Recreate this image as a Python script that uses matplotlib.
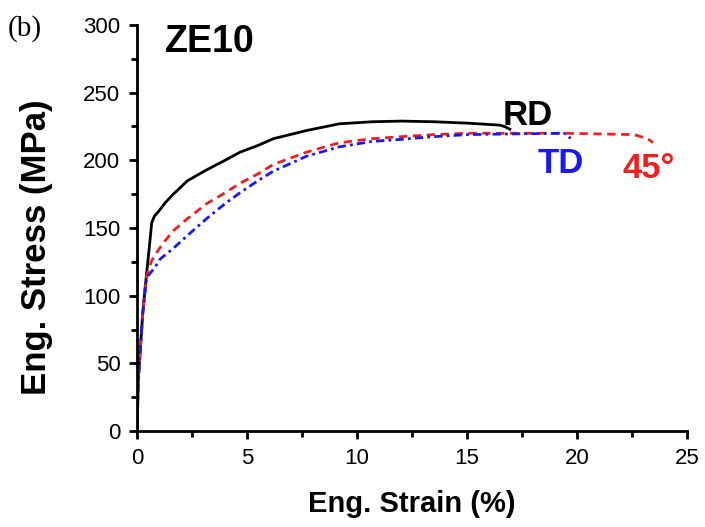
import matplotlib
matplotlib.use("Agg")
import matplotlib.pyplot as plt
from matplotlib.ticker import MultipleLocator

plt.rcParams['font.family'] = ['Liberation Sans', 'DejaVu Sans']

# RD (black, solid)
rd_strain = [0, 0.06, 0.26, 0.41, 0.56, 0.67, 0.8, 0.97, 1.3, 1.65, 2.3, 3.17, 4.0, 4.68, 5.5,
             6.2, 7.7, 9.2, 10.7, 12.0, 13.5, 15.0, 16.0, 16.5, 16.7, 16.95]
rd_stress = [0, 38, 87, 112, 136, 154, 159, 162, 169, 175, 185, 193, 200, 206, 211,
             216, 222, 227, 228.5, 229, 228.5, 227.5, 226.5, 226, 225, 223]

# 45 deg (red, dashed)
d45_strain = [0, 0.06, 0.26, 0.41, 0.52, 0.67, 0.9, 1.2, 1.65, 2.3, 3.17, 4.0, 4.68, 5.5, 6.2,
              7.7, 9.2, 10.7, 12.0, 13.5, 15.0, 17.0, 19.5, 21.0, 22.6, 23.0, 23.3, 23.45]
d45_stress = [0, 38, 87, 112, 119, 126, 132, 139, 148, 157, 168, 176, 183, 190, 197,
              206, 213, 216, 217.5, 219, 220, 220, 220, 219.5, 219, 217, 215, 213]

# TD (blue, dash-dot)
td_strain = [0, 0.06, 0.26, 0.41, 0.52, 0.82, 1.05, 1.35, 1.65, 2.33, 3.17, 4.0, 4.68, 5.5,
             6.2, 7.7, 9.2, 10.7, 12.0, 13.5, 15.0, 17.0, 19.4, 19.6, 19.7]
td_stress = [0, 38, 87, 110, 115, 121, 127, 131, 135, 145, 157, 168, 176, 185,
             192, 203, 210, 214, 215.5, 217.5, 219, 219.5, 220, 218.5, 216]

fig = plt.figure(figsize=(7.05, 5.27), dpi=100)
ax = fig.add_axes([137/705, 1 - 431/527, 550/705, 406/527])

ax.plot(rd_strain, rd_stress, color='black', lw=2, ls='-')
ax.plot(d45_strain, d45_stress, color='#f02020', lw=2, ls=(0, (3, 2)))
ax.plot(td_strain, td_stress, color='#1a1af0', lw=2, ls=(0, (3, 1.5, 1, 1.5)))

ax.set_xlim(0, 25)
ax.set_ylim(0, 300)
ax.xaxis.set_major_locator(MultipleLocator(5))
ax.xaxis.set_minor_locator(MultipleLocator(2.5))
ax.yaxis.set_major_locator(MultipleLocator(50))
ax.yaxis.set_minor_locator(MultipleLocator(25))

for s in ['top', 'right']:
    ax.spines[s].set_visible(False)
for s in ['left', 'bottom']:
    ax.spines[s].set_linewidth(2)
ax.tick_params(which='major', direction='out', length=6, width=2, labelsize=16, pad=6)
ax.tick_params(which='minor', direction='out', length=4, width=2)

ax.set_xlabel('Eng. Strain (%)', fontsize=21, fontweight='bold')
ax.set_ylabel('Eng. Stress (MPa)', fontsize=25, fontweight='bold')
ax.xaxis.set_label_coords(0.5, -0.145)
ax.yaxis.set_label_coords(-0.153, 0.453)

ax.text(1.27, 280, 'ZE10', fontsize=27, fontweight='bold', va='baseline', ha='left')
ax.text(16.64, 226, 'RD', fontsize=25, fontweight='bold', va='baseline', ha='left')
ax.text(18.2, 190.5, 'TD', fontsize=25, fontweight='bold', color='#1a1af0', va='baseline', ha='left')
ax.text(22.05, 187, '45°', fontsize=25, fontweight='bold', color='#f02020', va='baseline', ha='left')

fig.text(8/705, 1 - 29/527, '(b)', fontsize=21, family=['Liberation Serif'], va='center', ha='left')

fig.savefig('out.png', dpi=100)
